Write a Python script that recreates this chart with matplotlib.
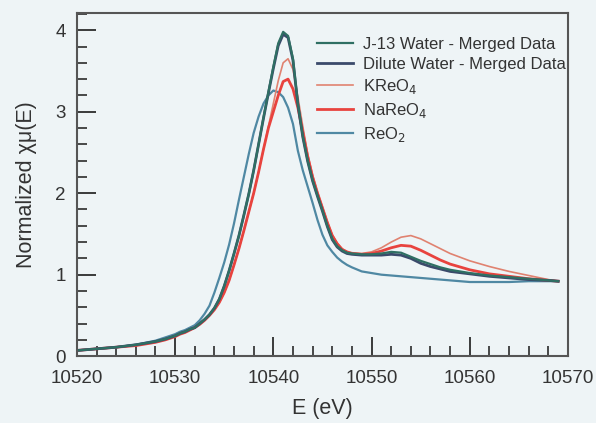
import numpy as np
import matplotlib.pyplot as plt
from matplotlib.ticker import MultipleLocator

plt.rcParams['font.family'] = ['Liberation Sans', 'DejaVu Sans']

# energy grid (eV)
energy = [10520, 10522, 10524, 10526, 10528, 10529, 10530, 10530.5, 10531, 10531.5,
          10532, 10532.5, 10533, 10533.5, 10534, 10534.5, 10535, 10535.5, 10536, 10536.5,
          10537, 10537.5, 10538, 10538.5, 10539, 10539.5, 10540, 10540.5, 10541, 10541.5,
          10542, 10542.5, 10543, 10543.5, 10544, 10544.5, 10545, 10545.5, 10546, 10546.5,
          10547, 10547.5, 10548, 10549, 10550, 10551, 10552, 10553, 10554, 10555,
          10556, 10557, 10558, 10560, 10562, 10564, 10566, 10568, 10569]

j13 = [0.07, 0.09, 0.11, 0.14, 0.18, 0.21, 0.25, 0.28, 0.30, 0.33,
       0.35, 0.40, 0.45, 0.51, 0.59, 0.70, 0.86, 1.05, 1.26, 1.48,
       1.73, 1.99, 2.28, 2.60, 2.93, 3.24, 3.55, 3.84, 3.98, 3.93,
       3.65, 3.10, 2.70, 2.40, 2.16, 1.97, 1.79, 1.60, 1.44, 1.35,
       1.30, 1.27, 1.26, 1.25, 1.25, 1.26, 1.28, 1.27, 1.22, 1.17,
       1.13, 1.09, 1.06, 1.02, 0.99, 0.97, 0.95, 0.93, 0.92]

dilute = [0.07, 0.09, 0.11, 0.14, 0.18, 0.21, 0.25, 0.28, 0.30, 0.33,
          0.35, 0.40, 0.45, 0.51, 0.59, 0.70, 0.86, 1.05, 1.26, 1.48,
          1.73, 1.99, 2.28, 2.60, 2.92, 3.23, 3.53, 3.81, 3.95, 3.91,
          3.63, 3.09, 2.69, 2.39, 2.15, 1.96, 1.78, 1.59, 1.43, 1.34,
          1.29, 1.26, 1.25, 1.24, 1.24, 1.24, 1.25, 1.24, 1.20, 1.14,
          1.10, 1.07, 1.04, 1.01, 0.98, 0.96, 0.94, 0.93, 0.92]

kreo4 = [0.07, 0.09, 0.11, 0.13, 0.17, 0.20, 0.24, 0.27, 0.29, 0.32,
         0.35, 0.39, 0.44, 0.50, 0.57, 0.66, 0.78, 0.93, 1.12, 1.32,
         1.54, 1.77, 2.00, 2.26, 2.54, 2.82, 3.10, 3.38, 3.60, 3.65,
         3.52, 3.18, 2.82, 2.48, 2.22, 2.01, 1.83, 1.65, 1.49, 1.39,
         1.32, 1.28, 1.27, 1.26, 1.28, 1.33, 1.40, 1.46, 1.48, 1.44,
         1.38, 1.32, 1.26, 1.17, 1.10, 1.04, 0.99, 0.94, 0.92]

nareo4 = [0.07, 0.09, 0.11, 0.13, 0.17, 0.20, 0.24, 0.27, 0.29, 0.32,
          0.35, 0.39, 0.44, 0.50, 0.57, 0.66, 0.78, 0.93, 1.12, 1.32,
          1.54, 1.77, 2.00, 2.26, 2.54, 2.80, 3.00, 3.20, 3.37, 3.40,
          3.28, 3.05, 2.75, 2.45, 2.20, 2.00, 1.82, 1.64, 1.48, 1.38,
          1.31, 1.28, 1.26, 1.25, 1.26, 1.29, 1.33, 1.36, 1.35, 1.30,
          1.24, 1.18, 1.13, 1.06, 1.01, 0.98, 0.95, 0.93, 0.92]

reo2 = [0.07, 0.09, 0.11, 0.14, 0.19, 0.23, 0.27, 0.30, 0.32, 0.35,
        0.38, 0.44, 0.52, 0.62, 0.78, 0.96, 1.15, 1.37, 1.63, 1.92,
        2.20, 2.48, 2.74, 2.94, 3.10, 3.20, 3.26, 3.24, 3.18, 3.05,
        2.85, 2.52, 2.28, 2.08, 1.88, 1.67, 1.49, 1.36, 1.28, 1.21,
        1.16, 1.12, 1.09, 1.04, 1.02, 1.00, 0.99, 0.98, 0.97, 0.96,
        0.95, 0.94, 0.93, 0.91, 0.91, 0.91, 0.92, 0.92, 0.92]

labels = ['J-13 Water - Merged Data', 'Dilute Water - Merged Data',
          'KReO$_4$', 'NaReO$_4$', 'ReO$_2$']

bg = '#eef4f6'
fig = plt.figure(figsize=(5.96, 4.23), dpi=100, facecolor=bg)
ax = fig.add_axes([0.129, 0.158, 0.824, 0.811], facecolor=bg)

ax.plot(energy, reo2, color='#4f88a3', lw=1.6, label=labels[4])
ax.plot(energy, kreo4, color='#e08270', lw=1.2, label=labels[2])
ax.plot(energy, nareo4, color='#e8433e', lw=2.0, label=labels[3])
ax.plot(energy, dilute, color='#3b4a6b', lw=2.0, label=labels[1])
ax.plot(energy, j13, color='#2f6f63', lw=1.6, label=labels[0])

ax.set_xlim(10520, 10570)
ax.set_ylim(0, 4.21)
ax.set_xticks(np.arange(10520, 10571, 10))
ax.set_xticks(np.arange(10520, 10571, 2), minor=True)
ax.yaxis.set_major_locator(MultipleLocator(1))
ax.yaxis.set_minor_locator(MultipleLocator(0.2))

# inward ticks on bottom and left only
ax.tick_params(axis='x', which='major', direction='in', length=14, width=1.4,
               color='#3a3a3a', bottom=True, top=False,
               labelsize=13.5, labelcolor='#333333', pad=10)
ax.tick_params(axis='x', which='minor', direction='in', length=7.5, width=1.3,
               color='#3a3a3a', bottom=True, top=False)
ax.tick_params(axis='y', which='major', direction='in', length=14, width=1.4,
               color='#3a3a3a', left=True, right=False,
               labelsize=13.5, labelcolor='#333333', pad=8)
ax.tick_params(axis='y', which='minor', direction='in', length=7.5, width=1.3,
               color='#3a3a3a', left=True, right=False)
for s in ax.spines.values():
    s.set_color('#555555')
    s.set_linewidth(1.5)

ax.set_xlabel('E (eV)', fontsize=15.5, color='#333333', labelpad=8)
ax.set_ylabel('Normalized χμ(E)', fontsize=15.5, color='#333333', labelpad=13)

# legend order as in the figure
h, l = ax.get_legend_handles_labels()
order = [l.index(t) for t in labels]
ax.legend([h[i] for i in order], labels, loc='upper left', bbox_to_anchor=(0.475, 0.95),
          borderaxespad=0, frameon=False, fontsize=12, handlelength=2.2, labelspacing=0.3,
          handletextpad=0.6, labelcolor='#333333')

fig.savefig('out.png', dpi=100, facecolor=bg)
